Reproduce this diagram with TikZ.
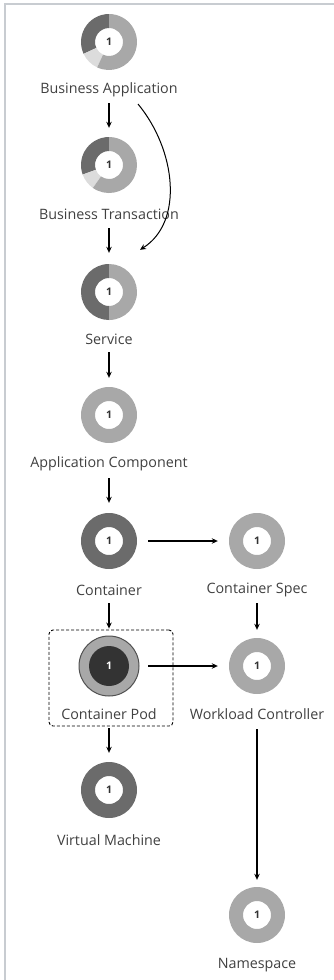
\documentclass[tikz,border=0pt]{standalone}
\usepackage{fontspec}
\setmainfont{Open Sans}
\usetikzlibrary{arrows.meta}
\definecolor{dk}{HTML}{6B6B6B}
\definecolor{md}{HTML}{A8A8A8}
\definecolor{lt}{HTML}{DCDCDC}
\definecolor{txt}{HTML}{404040}
\definecolor{frame}{HTML}{C8CCD1}
\definecolor{podin}{HTML}{333333}
\definecolor{podrim}{HTML}{505050}
\newcommand\ringseg[4]{%
  \fill[#4] ([shift={(#2:28pt)}]#1.center) arc[start angle=#2,end angle=#3,radius=28pt]
    -- ([shift={(#3:14pt)}]#1.center) arc[start angle=#3,end angle=#2,radius=14pt] -- cycle;}
\tikzset{
  ringnode/.style={circle, minimum size=56pt, inner sep=0pt, font=\fontsize{10.5}{12}\selectfont\bfseries, text=podin},
  lbl/.style={inner sep=0pt, font=\fontsize{14.3}{16}\selectfont, text=txt},
  arr/.style={-{Stealth[length=6pt,width=5.5pt]}, line width=1.1pt, black},
}
\begin{document}
\begin{tikzpicture}[x=1pt,y=1pt]
\useasboundingbox (0,0) rectangle (334,-980);
\draw[frame, line width=1.5pt] (5,-980) -- (5,-4) -- (334,-4);

% nodes (rings)
\node[ringnode] (ba)  at (109,-42)  {};
\node[ringnode] (bt)  at (109,-165) {};
\node[ringnode] (svc) at (109,-292) {};
\node[ringnode] (ac)  at (109,-415) {};
\node[ringnode] (ct)  at (109,-541) {};
\node[ringnode] (cs)  at (257,-541) {};
\node[ringnode] (pod) at (109,-666) {};
\node[ringnode] (wc)  at (257,-666) {};
\node[ringnode] (vm)  at (109,-790) {};
\node[ringnode] (ns)  at (257,-915) {};

% ring segments
\ringseg{ba}{90.5}{205}{dk}
\ringseg{ba}{205}{245}{lt}
\ringseg{ba}{245}{449.5}{md}
\ringseg{bt}{90.5}{200}{dk}
\ringseg{bt}{200}{235}{lt}
\ringseg{bt}{235}{449.5}{md}
\ringseg{svc}{90.5}{270}{dk}
\ringseg{svc}{270.5}{449.5}{md}
\ringseg{ac}{0}{360}{md}
\ringseg{ct}{0}{360}{dk}
\ringseg{cs}{0}{360}{md}
\ringseg{vm}{0}{360}{dk}
\ringseg{wc}{0}{360}{md}
\ringseg{ns}{0}{360}{md}
\fill[md, draw=podrim, line width=1pt] (pod.center) circle[radius=30pt];
\fill[podin] (pod.center) circle[radius=20pt];

% numbers
\foreach \n in {ba,bt,svc,ac,ct,cs,vm,wc,ns}{\node[ringnode] at (\n) {1};}
\node[ringnode, text=white] at (pod) {1};

% labels
\node[lbl] (baL)  at (109,-90)  {Business Application};
\node[lbl] (btL)  at (109,-214) {Business Transaction};
\node[lbl] (svcL) at (109,-339) {Service};
\node[lbl] (acL)  at (109,-464) {Application Component};
\node[lbl] (ctL)  at (109,-590) {Container};
\node[lbl] (csL)  at (257,-590) {Container Spec};
\node[lbl] (podL) at (109,-714) {Container Pod};
\node[lbl] (wcL)  at (257,-714) {Workload Controller};
\node[lbl] (vmL)  at (109,-840) {Virtual Machine};
\node[lbl] (nsL)  at (257,-965) {Namespace};

% dashed box
\node[draw, black, dashed, dash pattern=on 3pt off 2pt, line width=0.9pt, rounded corners=4pt,
      minimum width=124pt, minimum height=96pt, inner sep=0pt] (podbox) at (111,-678) {};

% connectors
\draw[arr, shorten <=13pt, shorten >=9pt] (baL.center) -- (bt.north);
\draw[arr, shorten <=14pt, shorten >=11pt] (btL.center) -- (svc.north);
\draw[arr, shorten <=13pt, shorten >=9pt] (svcL.center) -- (ac.north);
\draw[arr, shorten <=14pt, shorten >=10pt] (acL.center) -- (ct.north);
\draw[arr, shorten <=13pt, shorten >=1pt] (ctL.center) -- (ctL.center |- podbox.north);
\draw[arr, shorten <=13pt, shorten >=8pt] (csL.center) -- (wc.north);
\draw[arr, shorten <=2pt, shorten >=9pt] (vm.north |- podbox.south) -- (vm.north);
\draw[arr, shorten <=15pt, shorten >=7pt] (wcL.center) -- (ns.north);
\draw[arr, shorten <=11pt, shorten >=11pt] (ct.east) -- (cs.west);
\draw[arr, shorten <=11pt, shorten >=11pt] (pod.east) -- (wc.west);
\draw[arr, line width=1pt] ([shift={(29pt,-14pt)}]baL.center) .. controls (176,-150) and (184,-222) .. ([shift={(31pt,14pt)}]svc.north);
\end{tikzpicture}
\end{document}
